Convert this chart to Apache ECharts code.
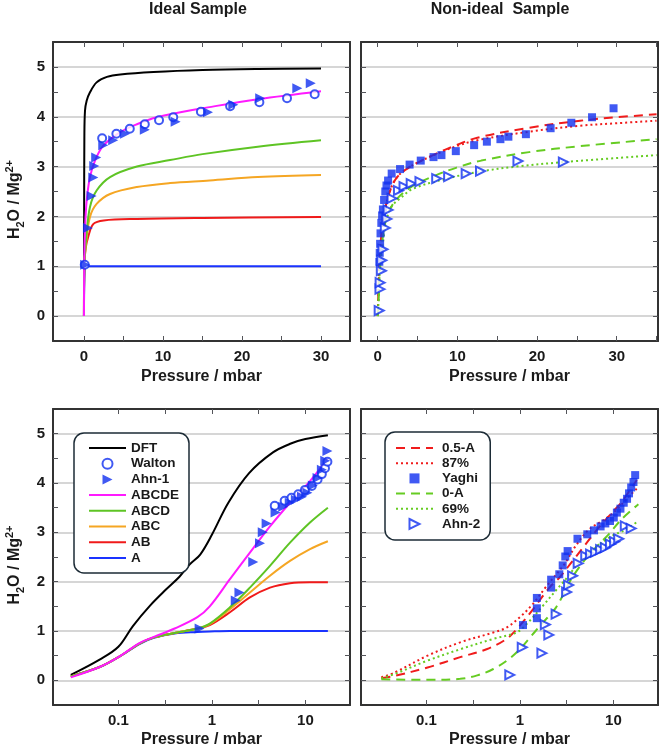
<!DOCTYPE html>
<html>
<head>
<meta charset="utf-8">
<script src="https://cdn.jsdelivr.net/npm/echarts@6/dist/echarts.min.js"></script>
<style>
  html, body { margin: 0; padding: 0; background: #fff; }
  #chart { width: 661px; height: 752px; }
</style>
</head>
<body>
<div id="chart"></div>
<script>
// ---------- data ----------
// top left: ideal sample, linear pressure (mbar)
const tlDftP = [0, 0.02, 0.05, 0.13, 0.34, 0.76, 1.6, 2.9, 4.6, 8.8, 15, 22, 30];
const tlDftV = [0, 2.0, 3.6, 4.12, 4.32, 4.49, 4.69, 4.8, 4.85, 4.9, 4.94, 4.96, 4.97];
const tlAbcdeP = [0, 0.02, 0.08, 0.2, 0.4, 0.76, 1.4, 2.45, 4.6, 6.7, 9.2, 12.2, 15, 22, 30];
const tlAbcdeV = [0, 0.8, 1.5, 2.0, 2.4, 2.79, 3.12, 3.42, 3.69, 3.85, 3.99, 4.09, 4.17, 4.35, 4.51];
const tlAbcdP = [0, 0.04, 0.3, 0.76, 1.6, 3.3, 6.7, 10.9, 15, 22, 30];
const tlAbcdV = [0, 1.0, 1.6, 2.19, 2.52, 2.79, 3.0, 3.13, 3.25, 3.4, 3.53];
const tlAbcP = [0, 0.04, 0.3, 0.76, 1.6, 3.3, 6.7, 10.9, 15.9, 22, 30];
const tlAbcV = [0, 1.0, 1.5, 1.99, 2.25, 2.45, 2.59, 2.67, 2.72, 2.79, 2.83];
const tlAbP = [0, 0.04, 0.2, 0.55, 1.2, 2.5, 6.7, 15, 30];
const tlAbV = [0, 1.0, 1.35, 1.6, 1.85, 1.92, 1.95, 1.97, 1.99];
const tlAP = [0, 0.1, 0.5, 30];
const tlAV = [0, 0.95, 1.0, 1.0];
const tlWaltonP = [0.1, 2.3, 4.1, 5.8, 7.7, 9.5, 11.3, 14.8, 18.5, 22.2, 25.7, 29.2];
const tlWaltonV = [1.03, 3.57, 3.66, 3.76, 3.85, 3.93, 3.99, 4.1, 4.21, 4.29, 4.37, 4.45];
const tlAhn1P = [0.15, 0.5, 0.97, 1.18, 1.3, 1.55, 2.44, 3.7, 5.2, 7.7, 11.6, 15.7, 18.9, 22.3, 27.0, 28.7];
const tlAhn1V = [1.03, 1.77, 2.41, 2.78, 3.01, 3.18, 3.43, 3.53, 3.66, 3.74, 3.9, 4.09, 4.24, 4.37, 4.57, 4.67];

// top right: non-ideal sample, linear pressure
const trRedP = [0, 0.05, 0.15, 0.3, 0.6, 1.0, 1.75, 2.6, 3.8, 5.5, 7.2, 9.7, 12.5, 19, 25.4, 30, 35];
const trHalfAV = [0, 0.3, 0.8, 1.3, 1.85, 2.2, 2.6, 2.82, 2.97, 3.12, 3.25, 3.42, 3.58, 3.78, 3.92, 3.99, 4.05];
const tr87V = [0, 0.3, 0.8, 1.3, 1.85, 2.2, 2.6, 2.82, 2.97, 3.12, 3.24, 3.4, 3.53, 3.7, 3.82, 3.87, 3.92];
const trZeroAP = [0, 0.1, 0.3, 0.7, 1.3, 2.4, 4.5, 7.2, 9.9, 13, 19, 25.4, 35];
const trZeroAV = [0, 0.3, 1.0, 1.66, 2.06, 2.35, 2.62, 2.82, 2.98, 3.12, 3.29, 3.41, 3.55];
const tr69P = [0, 0.1, 0.3, 0.7, 1.1, 1.75, 2.8, 4.5, 8.7, 12.8, 17.4, 23.3, 35];
const tr69V = [0, 0.3, 1.0, 1.53, 1.93, 2.2, 2.36, 2.56, 2.76, 2.9, 3.0, 3.09, 3.23];
const trYaghiP = [0.2, 0.25, 0.3, 0.35, 0.45, 0.55, 0.65, 0.8, 0.95, 1.1, 1.3, 1.75, 2.8, 4.0, 5.4, 7.0, 8.0, 9.8, 12.1, 13.7, 15.4, 16.4, 18.6, 21.7, 24.3, 26.9, 29.6];
const trYaghiV = [1.09, 1.27, 1.45, 1.66, 1.87, 2.02, 2.14, 2.33, 2.5, 2.62, 2.72, 2.86, 2.95, 3.04, 3.12, 3.19, 3.23, 3.31, 3.43, 3.5, 3.55, 3.6, 3.65, 3.77, 3.88, 3.99, 4.17];
const trAhn2P = [0.18, 0.28, 0.3, 0.45, 0.5, 0.65, 0.95, 1.15, 1.3, 1.8, 2.6, 3.3, 4.2, 5.3, 7.4, 8.9, 11.1, 12.9, 17.6, 23.3];
const trAhn2V = [0.11, 0.54, 0.67, 0.91, 1.12, 1.34, 1.77, 1.95, 2.13, 2.36, 2.52, 2.6, 2.66, 2.7, 2.76, 2.8, 2.86, 2.91, 3.11, 3.09];

// bottom left: ideal sample, log pressure
const blDftP = [0.031, 0.063, 0.1, 0.143, 0.217, 0.327, 0.45, 0.58, 0.75, 1.0, 1.5, 2.5, 4.5, 7, 10, 17.4];
const blDftV = [0.11, 0.42, 0.68, 1.1, 1.51, 1.85, 2.1, 2.35, 2.55, 2.95, 3.6, 4.2, 4.62, 4.8, 4.89, 4.97];
const blModelP = [0.031, 0.063, 0.1, 0.17, 0.24, 0.4, 0.7, 0.95, 1.56, 2.55, 4.18, 6.85, 11.2, 17.4];
const blAbcdeV = [0.06, 0.27, 0.47, 0.76, 0.88, 1.05, 1.28, 1.5, 2.05, 2.59, 3.12, 3.6, 4.04, 4.5];
const blAbcdV = [0.08, 0.27, 0.47, 0.75, 0.87, 0.96, 1.05, 1.15, 1.48, 1.88, 2.32, 2.79, 3.2, 3.5];
const blAbcV = [0.08, 0.27, 0.47, 0.75, 0.87, 0.96, 1.05, 1.14, 1.44, 1.78, 2.12, 2.42, 2.66, 2.82];
const blAbV = [0.08, 0.27, 0.47, 0.75, 0.87, 0.96, 1.05, 1.12, 1.38, 1.68, 1.88, 1.97, 1.99, 1.99];
const blAV = [0.08, 0.27, 0.47, 0.74, 0.86, 0.95, 0.98, 0.99, 1.0, 1.0, 1.0, 1.0, 1.0, 1.0];
const blWaltonP = [4.7, 6.0, 7.1, 8.4, 9.9, 11.7, 13.5, 15, 16.2, 17.2];
const blWaltonV = [3.54, 3.64, 3.7, 3.77, 3.86, 3.94, 4.07, 4.18, 4.3, 4.43];
const blAhn1P = [0.74, 1.8, 1.97, 2.77, 3.27, 3.5, 3.85, 4.8, 5.8, 6.8, 7.9, 9.2, 10.5, 12, 13.5, 15, 16.3, 17.2];
const blAhn1V = [1.05, 1.62, 1.78, 2.4, 2.78, 3.0, 3.18, 3.4, 3.52, 3.6, 3.66, 3.72, 3.8, 3.95, 4.1, 4.27, 4.45, 4.65];

// bottom right: non-ideal sample, log pressure
const brHalfAP = [0.033, 0.046, 0.103, 0.23, 0.44, 0.72, 1.0, 1.38, 2.07, 2.64, 3.66, 5.06, 7.0, 9.7, 12.3, 17.8];
const brHalfAV = [0.04, 0.09, 0.26, 0.47, 0.63, 0.84, 1.11, 1.44, 1.88, 2.08, 2.42, 2.76, 3.1, 3.4, 3.62, 4.06];
const br87P = [0.033, 0.046, 0.103, 0.23, 0.52, 0.72, 1.0, 1.38, 1.91, 2.98, 3.97, 5.5, 8.2, 11.4, 14.5, 18.2];
const br87V = [0.06, 0.16, 0.5, 0.77, 0.97, 1.07, 1.28, 1.55, 1.9, 2.35, 2.73, 3.06, 3.27, 3.5, 3.72, 3.9];
const brZeroAP = [0.033, 0.1, 0.23, 0.35, 0.52, 0.75, 1.0, 1.3, 1.63, 2.44, 3.37, 4.3, 5.95, 8.9, 12.3, 18.5];
const brZeroAV = [0.02, 0.01, 0.03, 0.1, 0.23, 0.42, 0.63, 0.88, 1.1, 1.48, 1.98, 2.29, 2.62, 2.96, 3.27, 3.57];
const br69P = [0.033, 0.046, 0.103, 0.23, 0.52, 0.92, 1.18, 1.76, 2.5, 3.1, 4.3, 6.45, 9.7, 13.4, 18.5];
const br69V = [0.04, 0.13, 0.4, 0.63, 0.84, 0.97, 1.14, 1.51, 1.85, 2.05, 2.39, 2.69, 2.93, 3.05, 3.23];
const brYaghiP = [1.08, 1.52, 1.52, 1.52, 2.16, 2.16, 2.64, 2.87, 3.06, 3.24, 4.13, 5.26, 6.2, 7.3, 8.2, 9.2, 10.1, 10.9, 11.9, 12.9, 14, 14.7, 15.5, 16.4, 17.1];
const brYaghiV = [1.12, 1.26, 1.46, 1.67, 1.88, 2.04, 2.15, 2.33, 2.51, 2.62, 2.87, 2.96, 3.04, 3.12, 3.18, 3.23, 3.3, 3.4, 3.48, 3.6, 3.68, 3.79, 3.91, 4.02, 4.16];
const brAhn2P = [0.78, 1.06, 1.72, 1.87, 2.04, 2.44, 3.16, 3.32, 3.66, 4.2, 5.06, 5.7, 6.45, 7.3, 8.2, 9.3, 10.3, 11.4, 13.4, 15.5];
const brAhn2V = [0.11, 0.67, 0.55, 1.13, 0.92, 1.34, 1.79, 1.93, 2.12, 2.37, 2.52, 2.56, 2.6, 2.65, 2.69, 2.76, 2.81, 2.87, 3.13, 3.08];

// ticks and labels
const yLabels = [0, 1, 2, 3, 4, 5];
const yTicks = [0, 0.5, 1, 1.5, 2, 2.5, 3, 3.5, 4, 4.5, 5];
const linLabels = [0, 10, 20, 30];
const linTicksL = [0, 5, 10, 15, 20, 25, 30];
const linTicksR = [0, 5, 10, 15, 20, 25, 30, 35];
const logTicks = [-1, -0.5, 0, 0.5, 1];   // log10 of pressure, half decades

// ---------- styling ----------
const FONT = 'Liberation Sans, Arial, sans-serif';
const INK = '#1a1a1a';
const BLUE = '#1030f0';
const C = {
  dft: '#000000', abcde: '#ff1aff', abcd: '#5ec424', abc: '#f5a623',
  ab: '#f01a1a', a: '#1a33ff', red: '#f01c1c', green: '#66cc22'
};
const LOGMIN = Math.log10(0.02), LOGMAX = Math.log10(30);
const XR = [[-3.92, 33.67], [-2.1, 35.18], [LOGMIN, LOGMAX], [LOGMIN, LOGMAX]];

const pts = (p, v) => p.map((x, i) => [x, v[i]]);

const labelStyle = { fontFamily: FONT, fontWeight: 'bold', fontSize: 15, color: INK };
const nameStyle = { fontFamily: FONT, fontWeight: 'bold', fontSize: 16, color: INK };
const empty = { show: true, formatter: () => '' };
const darkLine = { show: true, onZero: false, lineStyle: { color: '#333', width: 2 } };

// tick-only axis: plain axis line (covered later by the dark frame), inside ticks
function tickAxis(grid, pos, min, max, vals) {
  return {
    gridIndex: grid, type: 'value', position: pos, min, max,
    axisLine: { show: true, onZero: false },
    splitLine: { show: true, lineStyle: { opacity: 0 } },
    axisLabel: empty,
    axisTick: { show: true, inside: true, length: 5, customValues: vals }
  };
}
// frame-only axis: dark edge line, nothing else
function edgeAxis(grid, pos, min, max) {
  return {
    gridIndex: grid, type: 'value', position: pos, min, max,
    axisLine: darkLine, splitLine: { show: false }, axisLabel: empty, axisTick: { show: false }
  };
}

const logLabel = Object.assign({}, labelStyle, {
  margin: 8,
  formatter: v => {
    const l = Math.log10(v);
    return Math.abs(l - Math.round(l)) < 1e-6 ? String(parseFloat(Number(v).toPrecision(6))) : '';
  }
});

const xTickVals = [linTicksL, linTicksR, logTicks, logTicks];
const xAxes = [];
// 0-3 bottom ticks, 4-7 top ticks
for (let g = 0; g < 4; g++) xAxes.push(tickAxis(g, 'bottom', XR[g][0], XR[g][1], xTickVals[g]));
for (let g = 0; g < 4; g++) xAxes.push(tickAxis(g, 'top', XR[g][0], XR[g][1], xTickVals[g]));
// 8-11 data axes with labels
for (let g = 0; g < 4; g++) {
  const isLog = g >= 2;
  xAxes.push({
    gridIndex: g, position: 'bottom',
    type: isLog ? 'log' : 'value', logBase: 10,
    min: isLog ? 0.02 : XR[g][0], max: isLog ? 30 : XR[g][1],
    axisLine: darkLine, splitLine: { show: false }, axisTick: { show: false },
    axisLabel: isLog ? logLabel : Object.assign({ customValues: linLabels, margin: 8 }, labelStyle),
    name: 'Pressure / mbar', nameLocation: 'middle', nameGap: isLog ? 27 : 28, nameTextStyle: nameStyle
  });
}
// 12-15 top frame
for (let g = 0; g < 4; g++) xAxes.push(edgeAxis(g, 'top', XR[g][0], XR[g][1]));

const yName = {
  name: '{m|H}{s|2}{m|O / Mg}{p|2+}',
  nameLocation: 'middle', nameGap: 27,
  nameTextStyle: {
    padding: [0, 16, 0, 0],
    rich: {
      m: { fontFamily: FONT, fontWeight: 'bold', fontSize: 16, lineHeight: 22, color: INK },
      s: { fontFamily: FONT, fontWeight: 'bold', fontSize: 11, lineHeight: 8, verticalAlign: 'bottom', color: INK },
      p: { fontFamily: FONT, fontWeight: 'bold', fontSize: 11, lineHeight: 8, verticalAlign: 'top', color: INK }
    }
  }
};

const yAxes = [];
// 0-3 horizontal grid lines at whole numbers
for (let g = 0; g < 4; g++) yAxes.push({
  gridIndex: g, type: 'value', position: 'left', min: -0.5, max: 5.5,
  axisLine: { show: false, onZero: false }, axisLabel: empty,
  axisTick: { show: false, customValues: yLabels },
  splitLine: { show: true, lineStyle: { color: '#d6d6d6', width: 2 } }
});
// 4-7 left ticks, 8-11 right ticks
for (let g = 0; g < 4; g++) yAxes.push(tickAxis(g, 'left', -0.5, 5.5, yTicks));
for (let g = 0; g < 4; g++) yAxes.push(tickAxis(g, 'right', -0.5, 5.5, yTicks));
// 12-15 data axes with labels
for (let g = 0; g < 4; g++) {
  const withLabels = (g === 0 || g === 2);
  yAxes.push(Object.assign({
    gridIndex: g, type: 'value', position: 'left', min: -0.5, max: 5.5,
    axisLine: darkLine, splitLine: { show: false }, axisTick: { show: false },
    axisLabel: withLabels ? Object.assign({ customValues: yLabels, margin: 8 }, labelStyle) : empty
  }, withLabels ? yName : {}));
}
// 16-19 right frame
for (let g = 0; g < 4; g++) yAxes.push(edgeAxis(g, 'right', -0.5, 5.5));

function line(name, p, v, color, type, g) {
  return {
    name, type: 'line', xAxisIndex: 8 + g, yAxisIndex: 12 + g,
    data: pts(p, v), symbol: 'none', smooth: 0.35, clip: true,
    lineStyle: { color, width: 2, type: type || 'solid' },
    itemStyle: { color }
  };
}
function marks(name, p, v, symbol, rot, hollow, size, g) {
  return {
    name, type: 'scatter', xAxisIndex: 8 + g, yAxisIndex: 12 + g,
    data: pts(p, v), symbol, symbolRotate: rot, symbolSize: size,
    itemStyle: hollow ? { color: '#fff', borderColor: BLUE, borderWidth: 2 } : { color: BLUE },
    z: 3
  };
}

const DASH = [9, 6], DOT = [2, 3];

const series = [
  // top left
  line('DFT', tlDftP, tlDftV, C.dft, null, 0),
  line('A', tlAP, tlAV, C.a, null, 0),
  line('AB', tlAbP, tlAbV, C.ab, null, 0),
  line('ABC', tlAbcP, tlAbcV, C.abc, null, 0),
  line('ABCD', tlAbcdP, tlAbcdV, C.abcd, null, 0),
  line('ABCDE', tlAbcdeP, tlAbcdeV, C.abcde, null, 0),
  marks('Walton', tlWaltonP, tlWaltonV, 'circle', 0, true, 8, 0),
  marks('Ahn-1', tlAhn1P, tlAhn1V, 'triangle', -90, false, 10, 0),
  // top right
  line('0.5-A', trRedP, trHalfAV, C.red, DASH, 1),
  line('87%', trRedP, tr87V, C.red, DOT, 1),
  line('0-A', trZeroAP, trZeroAV, C.green, DASH, 1),
  line('69%', tr69P, tr69V, C.green, DOT, 1),
  marks('Yaghi', trYaghiP, trYaghiV, 'rect', 0, false, 8, 1),
  marks('Ahn-2', trAhn2P, trAhn2V, 'triangle', -90, true, 9, 1),
  // bottom left
  line('DFT', blDftP, blDftV, C.dft, null, 2),
  line('A', blModelP, blAV, C.a, null, 2),
  line('AB', blModelP, blAbV, C.ab, null, 2),
  line('ABC', blModelP, blAbcV, C.abc, null, 2),
  line('ABCD', blModelP, blAbcdV, C.abcd, null, 2),
  line('ABCDE', blModelP, blAbcdeV, C.abcde, null, 2),
  marks('Walton', blWaltonP, blWaltonV, 'circle', 0, true, 8, 2),
  marks('Ahn-1', blAhn1P, blAhn1V, 'triangle', -90, false, 10, 2),
  // bottom right
  line('0.5-A', brHalfAP, brHalfAV, C.red, DASH, 3),
  line('87%', br87P, br87V, C.red, DOT, 3),
  line('0-A', brZeroAP, brZeroAV, C.green, DASH, 3),
  line('69%', br69P, br69V, C.green, DOT, 3),
  marks('Yaghi', brYaghiP, brYaghiV, 'rect', 0, false, 8, 3),
  marks('Ahn-2', brAhn2P, brAhn2V, 'triangle', -90, true, 9, 3)
];

// legend entries: line entries hide the centre symbol, marker entries get a right-pointing icon
const TRI = 'path://M0,0L10,5L0,10Z';
const SQR = 'path://M0,0L10,0L10,10L0,10Z';
const lineItem = name => ({ name, itemStyle: { opacity: 0 } });
const legendText = { fontFamily: FONT, fontWeight: 'bold', fontSize: 13.5, lineHeight: 14, color: INK };

const option = {
  animation: false,
  backgroundColor: '#fff',
  title: [
    { text: 'Ideal Sample', left: 198, top: 2, textAlign: 'center', padding: 0,
      textStyle: { fontFamily: FONT, fontWeight: 'bold', fontSize: 16, color: INK } },
    { text: 'Non-ideal  Sample', left: 500, top: 2, textAlign: 'center', padding: 0,
      textStyle: { fontFamily: FONT, fontWeight: 'bold', fontSize: 16, color: INK } }
  ],
  grid: [
    { left: 53, top: 42, width: 297, height: 299 },
    { left: 361, top: 42, width: 297, height: 299 },
    { left: 53, top: 409, width: 297, height: 296 },
    { left: 361, top: 409, width: 297, height: 296 }
  ].map(g => Object.assign({ outerBoundsMode: 'none' }, g)),
  xAxis: xAxes,
  yAxis: yAxes,
  legend: [
    { orient: 'vertical', left: 74, top: 433, itemWidth: 37, itemHeight: 10, itemGap: 1.7,
      padding: [8, 10, 8, 14], borderColor: '#1c2b36', borderWidth: 1.5, borderRadius: 10,
      backgroundColor: '#fff', textStyle: legendText, selectedMode: false, symbolRotate: 0,
      data: [lineItem('DFT'), { name: 'Walton' }, { name: 'Ahn-1', icon: TRI },
        lineItem('ABCDE'), lineItem('ABCD'), lineItem('ABC'), lineItem('AB'), lineItem('A')] },
    { orient: 'vertical', left: 385, top: 432, itemWidth: 37, itemHeight: 10, itemGap: 1.2,
      padding: [9, 10, 9, 10], borderColor: '#1c2b36', borderWidth: 1.5, borderRadius: 10,
      backgroundColor: '#fff', textStyle: Object.assign({ padding: [0, 0, 0, 4] }, legendText),
      selectedMode: false, symbolRotate: 0,
      data: [lineItem('0.5-A'), lineItem('87%'), { name: 'Yaghi', icon: SQR },
        lineItem('0-A'), lineItem('69%'), { name: 'Ahn-2', icon: TRI }] }
  ],
  series
};

const chart = echarts.init(document.getElementById('chart'), null, { renderer: 'canvas' });
chart.setOption(option);
</script>
</body>
</html>
